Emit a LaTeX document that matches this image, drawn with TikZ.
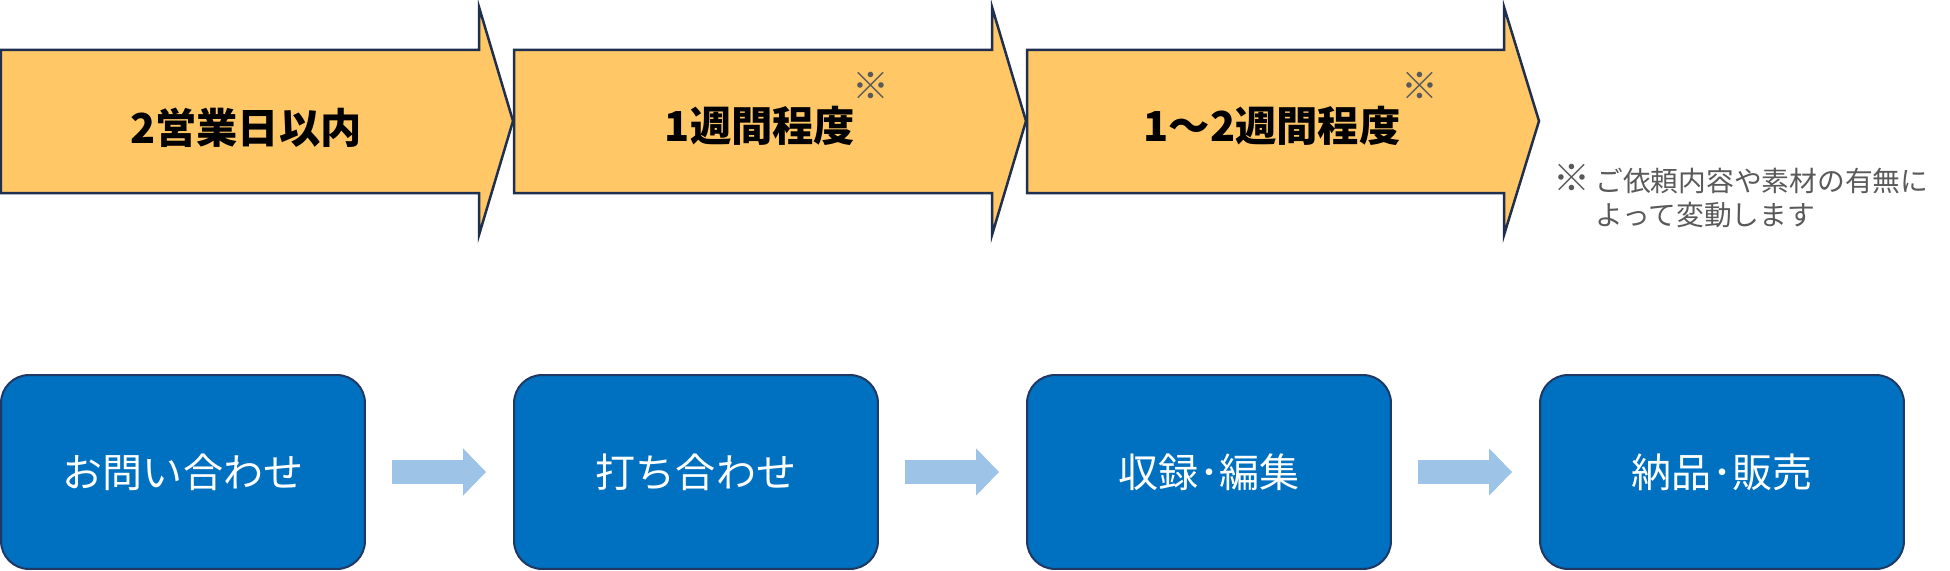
\documentclass[tikz,border=0pt]{standalone}
\usepackage{fontspec}
\usepackage{tikz}
\usetikzlibrary{arrows.meta}
\newfontfamily\jpfont{Noto Sans CJK JP}
\definecolor{periodfill}{HTML}{FFC766}
\definecolor{periodline}{HTML}{1F2F4F}
\definecolor{stepfill}{HTML}{0070C0}
\definecolor{stepline}{HTML}{1F3864}
\definecolor{flowblue}{HTML}{9DC3E6}
\definecolor{notegray}{HTML}{595959}

\begin{document}
\begin{tikzpicture}[x=0.02cm,y=-0.02cm]
      \tikzstyle{every node}=[inner sep=0pt,font=\jpfont]
      \tikzstyle{period}=[draw=periodline,fill=periodfill,line width=0.05cm,line join=miter]
      \tikzstyle{periodtext}=[font=\jpfont\bfseries\fontsize{23.5}{28}\selectfont]
      \tikzstyle{notemark}=[text=notegray,font=\jpfont\fontsize{21}{24}\selectfont]
      \tikzstyle{stepbox}=[draw=stepline,fill=stepfill,line width=0.04cm,rounded corners=0.56cm,
        minimum width=7.28cm,minimum height=3.88cm,text=white,font=\jpfont\fontsize{22.8}{27}\selectfont]
      \tikzstyle{flow}=[draw=flowblue,line width=0.48cm,-{Triangle[length=0.46cm,width=0.92cm]}]

      \useasboundingbox (0,0) rectangle (1950,571);

      \draw[period] (1,50) -- (479,50) -- (479,7) -- (513,121) -- (479,235) -- (479,193) -- (1,193) -- cycle;
      \draw[period] (514,50) -- (992,50) -- (992,7) -- (1026,121) -- (992,235) -- (992,193) -- (514,193) -- cycle;
      \draw[period] (1027,50) -- (1504,50) -- (1504,7) -- (1539,121) -- (1504,235) -- (1504,193) -- (1027,193) -- cycle;

      \node[periodtext] (p1) at (246,128) {2営業日以内};
      \node[periodtext] (p2) at (760,126) {1週間程度};
      \node[periodtext] (p3) at (1272,126) {1〜2週間程度};
      \node[notemark] (m2) at (871,86) {※};
      \node[notemark] (m3) at (1420,86) {※};

      \node[text=notegray,anchor=north west,align=left,font=\jpfont\fontsize{15.8}{19.4}\selectfont] (note) at (1553,164)
        {\makebox[0.84cm][l]{\fontsize{21}{19.4}\selectfont ※}ご依頼内容や素材の有無に\\\hspace*{0.84cm}よって変動します};

      \node[stepbox] (s1) at (183,472) {お問い合わせ};
      \node[stepbox] (s2) at (696,472) {打ち合わせ};
      \node[stepbox] (s3) at (1209,472) {収録･編集};
      \node[stepbox] (s4) at (1722,472) {納品･販売};

      \draw[flow] ([xshift=0.52cm]s1.east) -- ([xshift=-0.54cm]s2.west);
      \draw[flow] ([xshift=0.52cm]s2.east) -- ([xshift=-0.54cm]s3.west);
      \draw[flow] ([xshift=0.52cm]s3.east) -- ([xshift=-0.54cm]s4.west);

    \end{tikzpicture}
\end{document}
